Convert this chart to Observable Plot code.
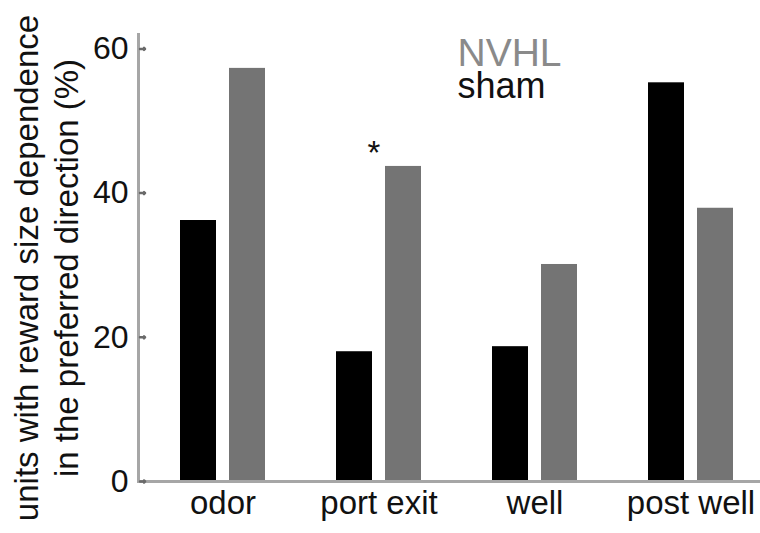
<!DOCTYPE html>
<html><head><meta charset="utf-8">
<script src="https://cdn.jsdelivr.net/npm/d3@7"></script>
<script src="https://cdn.jsdelivr.net/npm/@observablehq/plot@0.6"></script>
<style>html,body{margin:0;padding:0;background:#fff;overflow:hidden}</style>
</head><body><div id="chart"></div>
<script>
const categories = ["odor", "port exit", "well", "post well"];
const shamValues = [36.2, 18.0, 18.7, 55.3];
const nvhlValues = [57.3, 43.7, 30.1, 37.9];
const yTicks = [0, 20, 40, 60];
const yLabel = "units with reward size dependence\nin the preferred direction (%)";
const significant = ["port exit"];
const legendLabels = ["NVHL", "sham"];
const colors = {sham: "#000000", NVHL: "#747474"};

const sham = categories.map((c, i) => ({category: c, value: shamValues[i]}));
const nvhl = categories.map((c, i) => ({category: c, value: nvhlValues[i]}));
const stars = significant.map(c => ({category: c, value: nvhlValues[categories.indexOf(c)]}));

const chart = Plot.plot({
  width: 760, height: 533,
  marginLeft: 138, marginRight: 0, marginTop: 34, marginBottom: 52,
  style: {fontFamily: "'Liberation Sans', Arial, sans-serif", background: "white", color: "#111"},
  x: {domain: categories, paddingInner: 0.458, paddingOuter: 0.2155, align: 0.6},
  y: {domain: [0, 62]},
  marks: [
    Plot.barY(sham, {x: "category", y: "value", fill: colors.sham, insetRight: 49}),
    Plot.barY(nvhl, {x: "category", y: "value", fill: colors.NVHL, insetLeft: 49}),
    Plot.frame({anchor: "left", stroke: "#a6a6a6", strokeWidth: 3}),
    Plot.frame({anchor: "bottom", stroke: "#a6a6a6", strokeWidth: 3}),
    Plot.vector(yTicks, {y: d => d, frameAnchor: "left", length: 5, rotate: 90, anchor: "start", stroke: "#6a6a6a", strokeWidth: 2.5, dx: 1.5}),
    Plot.axisY(yTicks, {anchor: "left", tickSize: 0, tickPadding: 10, fontSize: 32, label: null}),
    Plot.axisX({tickSize: 0, tickPadding: 9, fontSize: 33, label: null}),
    Plot.text([yLabel], {frameAnchor: "left", rotate: -90, dx: -93, dy: 10, fontSize: 33, lineHeight: 1.2, textAnchor: "middle", fill: "#111"}),
    Plot.text([legendLabels[0]], {frameAnchor: "top-left", dx: 319, dy: 31, lineAnchor: "bottom", textAnchor: "start", fontSize: 39, fill: "#8a8a8a"}),
    Plot.text([legendLabels[1]], {frameAnchor: "top-left", dx: 319, dy: 63, lineAnchor: "bottom", textAnchor: "start", fontSize: 36, fill: "#111"}),
    Plot.text(stars, {x: "category", y: "value", text: () => "*", dx: -5, dy: -2, lineAnchor: "bottom", fontSize: 33, fill: "#111"})
  ]
});
document.getElementById("chart").append(chart);
</script>
</body></html>
